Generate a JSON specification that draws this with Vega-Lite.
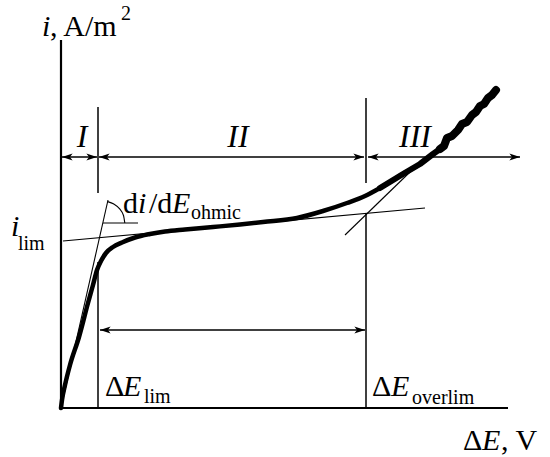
{
  "$schema": "https://vega.github.io/schema/vega-lite/v6.json",
  "width": 550,
  "height": 457,
  "autosize": {"type": "none"},
  "padding": 0,
  "background": "white",
  "config": {"view": {"stroke": null}},
  "datasets": {
    "curve": [
      {"E": 0, "i": 0}, {"E": 0.01, "i": 0.08}, {"E": 0.04, "i": 0.23}, {"E": 0.09, "i": 0.43},
      {"E": 0.18, "i": 0.71}, {"E": 0.27, "i": 1.05}, {"E": 0.32, "i": 1.23}, {"E": 0.36, "i": 1.38},
      {"E": 0.40, "i": 1.47}, {"E": 0.45, "i": 1.55}, {"E": 0.52, "i": 1.61}, {"E": 0.61, "i": 1.655},
      {"E": 0.74, "i": 1.705}, {"E": 0.89, "i": 1.74}, {"E": 1.04, "i": 1.765}, {"E": 1.24, "i": 1.785},
      {"E": 1.52, "i": 1.81}, {"E": 1.79, "i": 1.835}, {"E": 2.02, "i": 1.86}, {"E": 2.36, "i": 1.90},
      {"E": 2.62, "i": 1.97}, {"E": 2.86, "i": 2.05}, {"E": 3.04, "i": 2.12}, {"E": 3.19, "i": 2.20},
      {"E": 3.42, "i": 2.34}, {"E": 3.59, "i": 2.44}, {"E": 3.72, "i": 2.54}, {"E": 3.79, "i": 2.59},
      {"E": 3.83, "i": 2.62}, {"E": 3.86, "i": 2.70}, {"E": 3.91, "i": 2.72}, {"E": 3.97, "i": 2.78},
      {"E": 4.01, "i": 2.84}, {"E": 4.06, "i": 2.86}, {"E": 4.11, "i": 2.93}, {"E": 4.15, "i": 2.96},
      {"E": 4.19, "i": 3.02}, {"E": 4.23, "i": 3.04}, {"E": 4.27, "i": 3.10}, {"E": 4.31, "i": 3.13},
      {"E": 4.35, "i": 3.18}
    ],
    "lines": [
      {"g": "axis", "E": 0, "i": 0, "E2": 0, "i2": 3.68},
      {"g": "axis", "E": 0, "i": 0, "E2": 4.47, "i2": 0},
      {"g": "mid", "E": 0.37, "i": 3.01, "E2": 0.37, "i2": 2.15},
      {"g": "mid", "E": 0.37, "i": 1.46, "E2": 0.37, "i2": 0},
      {"g": "mid", "E": 3.05, "i": 3.10, "E2": 3.05, "i2": 2.25},
      {"g": "mid", "E": 3.05, "i": 1.95, "E2": 3.05, "i2": 0},
      {"g": "mid", "E": 0.01, "i": 2.51, "E2": 0.36, "i2": 2.51},
      {"g": "mid", "E": 0.38, "i": 2.51, "E2": 3.03, "i2": 2.51},
      {"g": "mid", "E": 3.07, "i": 2.51, "E2": 4.59, "i2": 2.51},
      {"g": "mid", "E": 0.39, "i": 0.78, "E2": 3.04, "i2": 0.78},
      {"g": "thin", "E": 0, "i": 0, "E2": 0.47, "i2": 2.08},
      {"g": "thin", "E": 0.02, "i": 1.67, "E2": 3.64, "i2": 2.00},
      {"g": "thin", "E": 2.84, "i": 1.73, "E2": 3.49, "i2": 2.36},
      {"g": "thin", "E": 0.42, "i": 1.85, "E2": 0.77, "i2": 1.85}
    ],
    "arc": [
      {"k": 0, "E": 0.638, "i": 1.85}, {"k": 1, "E": 0.625, "i": 1.925}, {"k": 2, "E": 0.587, "i": 1.991},
      {"k": 3, "E": 0.528, "i": 2.04}, {"k": 4, "E": 0.467, "i": 2.064}
    ],
    "heads": [
      {"d": "L", "E": 0.01, "i": 2.51}, {"d": "R", "E": 0.36, "i": 2.51},
      {"d": "L", "E": 0.38, "i": 2.51}, {"d": "R", "E": 3.03, "i": 2.51},
      {"d": "L", "E": 3.07, "i": 2.51}, {"d": "R", "E": 4.59, "i": 2.51},
      {"d": "L", "E": 0.39, "i": 0.78}, {"d": "R", "E": 3.04, "i": 0.78}
    ],
    "texts": [
      {"g": "it", "t": "i", "E": -0.19, "i": 3.72},
      {"g": "rm", "t": ", A/m", "E": -0.11, "i": 3.72},
      {"g": "sub", "t": "2", "E": 0.60, "i": 3.88},
      {"g": "it", "t": "i", "E": -0.50, "i": 1.72},
      {"g": "sub", "t": "lim", "E": -0.43, "i": 1.58},
      {"g": "rm", "t": "d", "E": 0.62, "i": 1.95},
      {"g": "it", "t": "i", "E": 0.77, "i": 1.95},
      {"g": "rm", "t": "/d", "E": 0.88, "i": 1.95},
      {"g": "it", "t": "E", "E": 1.11, "i": 1.95},
      {"g": "sub", "t": "ohmic", "E": 1.30, "i": 1.89},
      {"g": "rm", "t": "Δ", "E": 0.44, "i": 0.12},
      {"g": "it", "t": "E", "E": 0.62, "i": 0.12},
      {"g": "sub", "t": "lim", "E": 0.83, "i": 0.05},
      {"g": "rm", "t": "Δ", "E": 3.11, "i": 0.12},
      {"g": "it", "t": "E", "E": 3.30, "i": 0.12},
      {"g": "sub", "t": "overlim", "E": 3.51, "i": 0.04},
      {"g": "rm", "t": "Δ", "E": 4.02, "i": -0.42},
      {"g": "it", "t": "E", "E": 4.21, "i": -0.42},
      {"g": "rm", "t": ", V", "E": 4.40, "i": -0.42},
      {"g": "roman", "t": "I", "E": 0.21, "i": 2.61},
      {"g": "roman", "t": "II", "E": 1.77, "i": 2.61},
      {"g": "roman", "t": "III", "E": 3.54, "i": 2.61}
    ]
  },
  "encoding": {
    "x": {"field": "E", "type": "quantitative", "scale": {"domain": [-0.61, 4.89], "nice": false, "zero": false}, "axis": null},
    "y": {"field": "i", "type": "quantitative", "scale": {"domain": [-0.49, 4.08], "nice": false, "zero": false}, "axis": null}
  },
  "layer": [
    {
      "data": {"name": "lines"},
      "transform": [{"filter": "datum.g === 'axis'"}],
      "mark": {"type": "rule", "color": "black", "strokeWidth": 2.2},
      "encoding": {"x2": {"field": "E2"}, "y2": {"field": "i2"}}
    },
    {
      "data": {"name": "lines"},
      "transform": [{"filter": "datum.g === 'mid'"}],
      "mark": {"type": "rule", "color": "black", "strokeWidth": 1.5},
      "encoding": {"x2": {"field": "E2"}, "y2": {"field": "i2"}}
    },
    {
      "data": {"name": "lines"},
      "transform": [{"filter": "datum.g === 'thin'"}],
      "mark": {"type": "rule", "color": "black", "strokeWidth": 1.1},
      "encoding": {"x2": {"field": "E2"}, "y2": {"field": "i2"}}
    },
    {
      "data": {"name": "arc"},
      "mark": {"type": "line", "color": "black", "strokeWidth": 1.1, "interpolate": "monotone"},
      "encoding": {"order": {"field": "k", "type": "quantitative"}}
    },
    {
      "data": {"name": "curve"},
      "mark": {"type": "line", "color": "black", "strokeWidth": 4.5, "strokeCap": "round", "strokeJoin": "round", "interpolate": "monotone"},
      "encoding": {}
    },
    {
      "data": {"name": "curve"},
      "transform": [{"filter": "datum.E >= 3.1"}],
      "mark": {"type": "line", "color": "black", "strokeWidth": 6, "strokeCap": "round", "strokeJoin": "round"},
      "encoding": {}
    },
    {
      "data": {"name": "curve"},
      "transform": [{"filter": "datum.E >= 3.75"}],
      "mark": {"type": "line", "color": "black", "strokeWidth": 8, "strokeCap": "round", "strokeJoin": "round"},
      "encoding": {}
    },
    {
      "data": {"name": "heads"},
      "transform": [{"filter": "datum.d === 'R'"}],
      "mark": {"type": "point", "shape": "M0,0L-1,-0.32L-0.75,0L-1,0.32Z", "filled": true, "color": "black", "size": 450, "opacity": 1}
    },
    {
      "data": {"name": "heads"},
      "transform": [{"filter": "datum.d === 'L'"}],
      "mark": {"type": "point", "shape": "M0,0L1,-0.32L0.75,0L1,0.32Z", "filled": true, "color": "black", "size": 450, "opacity": 1}
    },
    {
      "data": {"name": "texts"},
      "transform": [{"filter": "datum.g === 'it'"}],
      "mark": {"type": "text", "font": "Liberation Serif", "fontStyle": "italic", "fontSize": 30, "align": "left", "baseline": "alphabetic", "color": "black"},
      "encoding": {"text": {"field": "t"}}
    },
    {
      "data": {"name": "texts"},
      "transform": [{"filter": "datum.g === 'rm'"}],
      "mark": {"type": "text", "font": "Liberation Serif", "fontSize": 30, "align": "left", "baseline": "alphabetic", "color": "black"},
      "encoding": {"text": {"field": "t"}}
    },
    {
      "data": {"name": "texts"},
      "transform": [{"filter": "datum.g === 'sub'"}],
      "mark": {"type": "text", "font": "Liberation Serif", "fontSize": 20, "align": "left", "baseline": "alphabetic", "color": "black"},
      "encoding": {"text": {"field": "t"}}
    },
    {
      "data": {"name": "texts"},
      "transform": [{"filter": "datum.g === 'roman'"}],
      "mark": {"type": "text", "font": "Liberation Serif", "fontStyle": "italic", "fontSize": 32, "align": "center", "baseline": "alphabetic", "color": "black"},
      "encoding": {"text": {"field": "t"}}
    }
  ]
}
